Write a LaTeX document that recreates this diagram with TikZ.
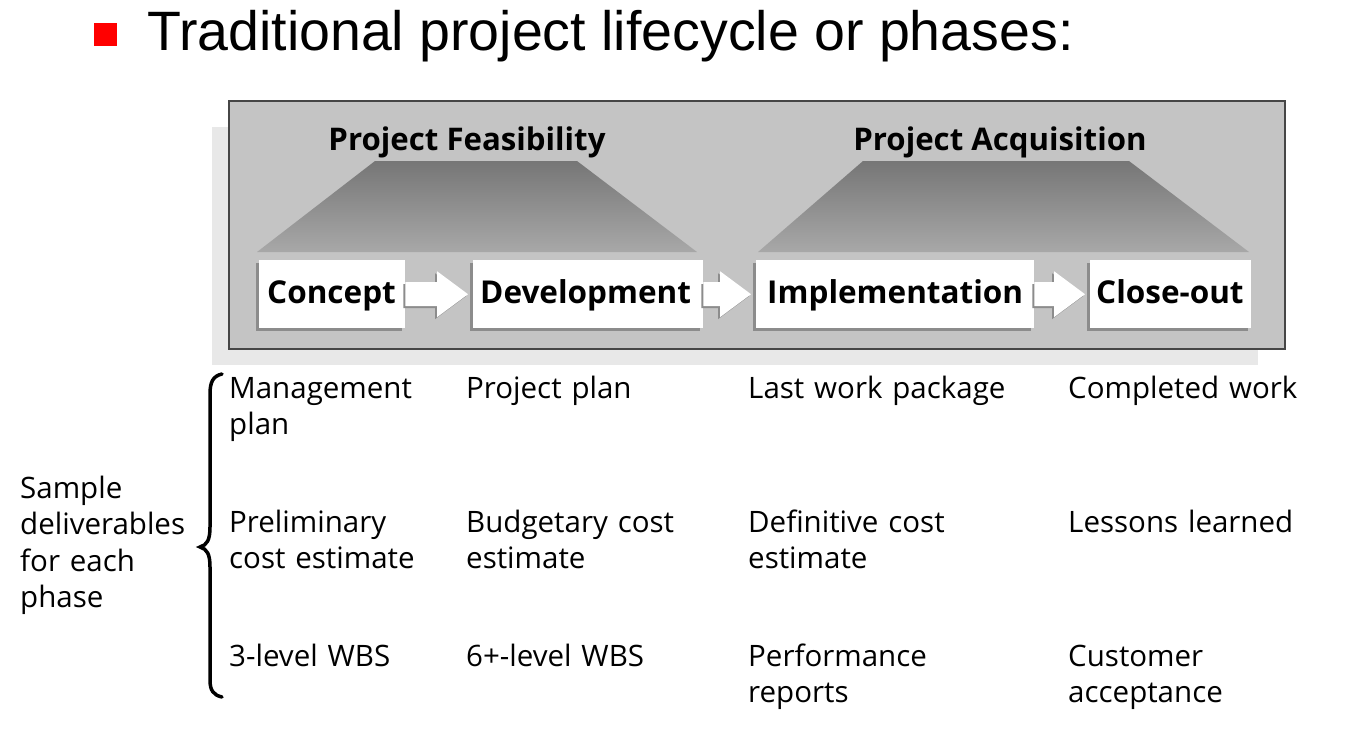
\documentclass[tikz,border=0pt]{standalone}
\usepackage{fontspec}
\setmainfont{Open Sans}
\newfontfamily\titlefont{Liberation Sans}
\usetikzlibrary{calc,shadows}
\definecolor{framefill}{RGB}{196,196,196}
\definecolor{frameline}{RGB}{70,70,70}
\definecolor{softshadow}{RGB}{232,232,232}
\definecolor{traptop}{RGB}{118,118,118}
\definecolor{trapbot}{RGB}{168,168,168}
\definecolor{boxshadow}{RGB}{140,140,140}
\tikzset{
  phasebox/.style={fill=white, inner sep=0pt, anchor=north west, minimum height=68pt,
    drop shadow={shadow xshift=-3pt, shadow yshift=-3pt, fill=boxshadow, opacity=1}},
  phasetext/.style={font=\fontsize{31.5}{38}\selectfont\bfseries, inner sep=0pt, anchor=base west},
  headtext/.style={font=\fontsize{31.2}{38}\selectfont\bfseries, inner sep=0pt, anchor=base},
  deliv/.style={font=\fontsize{29.5}{36.5}\selectfont, inner sep=0pt, anchor=base west,
    text width=330pt, align=left},
  phasearrow/.style={fill=white, draw=none,
    drop shadow={shadow xshift=-2pt, shadow yshift=-2pt, fill=boxshadow, opacity=1}},
  trap/.style={top color=traptop, bottom color=trapbot, draw=none}
}
\newcommand\linkarrow[2]{%
  \path[phasearrow] ($(#1.east)+(0,-12)$) -- ($(#2.west)+(-36,-12)$) -- ($(#2.west)+(-36,-23)$)
    -- ($(#2.west)+(-5,0)$) -- ($(#2.west)+(-36,23)$) -- ($(#2.west)+(-36,12)$)
    -- ($(#1.east)+(0,12)$) -- cycle;}
\begin{document}
\begin{tikzpicture}[x=1pt,y=-1pt]
\useasboundingbox (0,0) rectangle (1354,740);
% title
\node[fill=red, minimum size=23pt, inner sep=0pt, anchor=north west] (bullet) at (94,23) {};
\node[anchor=base west, inner sep=0pt, font=\titlefont\fontsize{55.5}{60}\selectfont] (title) at (147,50)
  {Traditional project lifecycle or phases:};
% frame
\fill[softshadow] (212,127) rectangle (1258,365);
\node[fill=framefill, draw=frameline, line width=2pt, inner sep=0pt, anchor=north west,
  minimum width=1056pt, minimum height=248pt] (frame) at (228,100) {};
% trapezoids
\shade[trap] (375,161) -- (577,161) -- (697,252) -- (257,252) -- cycle;
\shade[trap] (863,161) -- (1129,161) -- (1249,252) -- (758,252) -- cycle;
\node[headtext] (feas) at (467,150) {Project Feasibility};
\node[headtext] (acq) at (1000,150) {Project Acquisition};
% phase boxes
\node[phasebox, minimum width=146pt] (concept) at (259,260) {};
\node[phasebox, minimum width=230pt] (devel) at (473,260) {};
\node[phasebox, minimum width=278pt] (impl) at (756,260) {};
\node[phasebox, minimum width=161pt] (close) at (1090,260) {};
\linkarrow{concept}{devel}
\linkarrow{devel}{impl}
\linkarrow{impl}{close}
\node[phasetext] (tconcept) at ($(concept.north west)+(8,43)$) {Concept};
\node[phasetext] (tdevel) at ($(devel.north west)+(7,43)$) {Development};
\node[phasetext] (timpl) at ($(impl.north west)+(11,43)$) {Implementation};
\node[phasetext] (tclose) at ($(close.north west)+(6,43)$) {Close-out};
% left label and brace
\node[deliv] (sample) at (20,498) {Sample\\deliverables\\for each\\phase};
\draw[line width=3.5pt, line cap=round] (222,374) .. controls (213,376) and (210,382) .. (210,394)
  -- (210,527) .. controls (210,540) and (207,545) .. (200,547)
  .. controls (207,549) and (210,554) .. (210,567) -- (210,680)
  .. controls (210,690) and (213,695) .. (222,697);
% deliverables
\node[deliv] (d11) at (229,398) {Management\\plan};
\node[deliv] (d21) at (229,532) {Preliminary\\cost estimate};
\node[deliv] (d31) at (229,666) {3-level WBS};
\node[deliv] (d12) at (466,398) {Project plan};
\node[deliv] (d22) at (466,532) {Budgetary cost\\estimate};
\node[deliv] (d32) at (466,666) {6+-level WBS};
\node[deliv] (d13) at (748,398) {Last work package};
\node[deliv] (d23) at (748,532) {Definitive cost\\estimate};
\node[deliv] (d33) at (748,666) {Performance\\reports};
\node[deliv] (d14) at (1068,398) {Completed work};
\node[deliv] (d24) at (1068,532) {Lessons learned};
\node[deliv] (d34) at (1068,666) {Customer\\acceptance};
\end{tikzpicture}
\end{document}
